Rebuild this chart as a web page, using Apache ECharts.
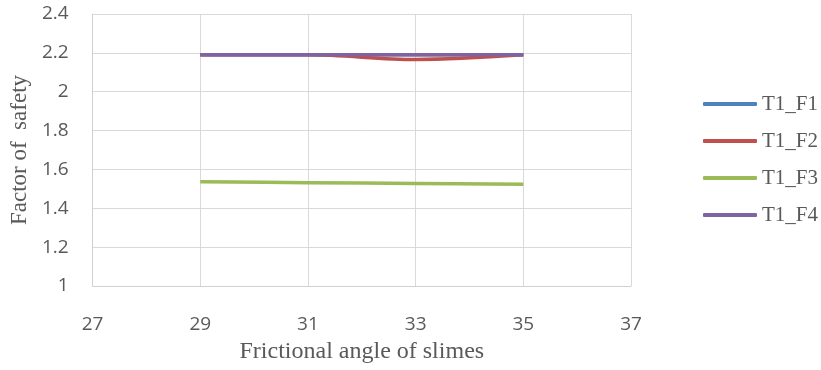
<!DOCTYPE html>
<html>
<head>
<meta charset="utf-8">
<script src="https://cdn.jsdelivr.net/npm/echarts@6/dist/echarts.min.js"></script>
<style>html,body{margin:0;padding:0;background:#fff}#c{width:821px;height:370px}</style>
</head>
<body>
<div id="c"></div>
<script>
var angles = [29, 31, 33, 35];
var seriesNames = ['T1_F1', 'T1_F2', 'T1_F3', 'T1_F4'];
var f1 = [2.19, 2.19, 2.19, 2.19];
var f2 = [2.19, 2.19, 2.166, 2.19];
var f3 = [1.536, 1.532, 1.528, 1.524];
var f4 = [2.19, 2.19, 2.19, 2.19];
var colors = ['#4F81BD', '#C0504D', '#9BBB59', '#8064A2'];

function pairs(vals) { return angles.map(function (a, i) { return [a, vals[i]]; }); }
var allVals = [f1, f2, f3, f4];

var chart = echarts.init(document.getElementById('c'), null, {renderer: 'canvas'});
chart.setOption({
  animation: false,
  backgroundColor: '#fff',
  grid: {left: 91, right: 190, top: 14, bottom: 84, containLabel: false},
  legend: {
    orient: 'vertical', left: 703, top: 93, padding: 0,
    itemWidth: 54, itemHeight: 4, itemGap: 15,
    icon: 'roundRect',
    textStyle: {fontFamily: 'Liberation Serif', fontSize: 21, color: '#595959', lineHeight: 22, padding: [0, 0, 0, 0]},
    data: seriesNames
  },
  xAxis: {
    type: 'value', min: 27, max: 37, interval: 2,
    name: 'Frictional angle of slimes', nameLocation: 'middle', nameGap: 54,
    nameTextStyle: {fontFamily: 'Liberation Serif', fontSize: 24, color: '#595959'},
    axisLine: {show: true, lineStyle: {color: '#d0d0d0', width: 1}},
    axisTick: {show: false},
    axisLabel: {fontFamily: 'Open Sans', fontSize: 19, color: '#595959', margin: 29},
    splitLine: {show: true, lineStyle: {color: '#d9d9d9', width: 1}}
  },
  yAxis: {
    type: 'value', min: 1, max: 2.4, interval: 0.2,
    name: 'Factor of  safety', nameLocation: 'middle', nameGap: 59, nameRotate: 90,
    nameTextStyle: {fontFamily: 'Liberation Serif', fontSize: 23, color: '#595959'},
    axisLine: {show: true, lineStyle: {color: '#d0d0d0', width: 1}},
    axisTick: {show: false},
    axisLabel: {fontFamily: 'Open Sans', fontSize: 19, color: '#595959', margin: 24,
      formatter: function (v) { return String(Math.round(v * 10) / 10); }},
    splitLine: {show: true, lineStyle: {color: '#d9d9d9', width: 1}}
  },
  series: seriesNames.map(function (n, i) {
    return {
      name: n, type: 'line', data: pairs(allVals[i]), smooth: 0.35,
      showSymbol: false, symbol: 'none',
      lineStyle: {color: colors[i], width: 3.5},
      itemStyle: {color: colors[i]},
      z: 2 + i
    };
  })
});
</script>
</body>
</html>
